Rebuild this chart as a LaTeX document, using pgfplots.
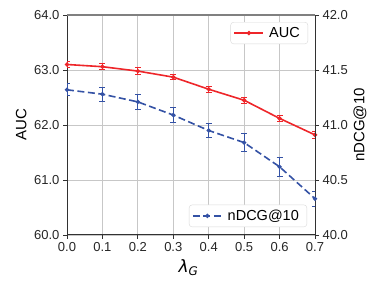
\documentclass[border=0pt]{standalone}
\usepackage{fontspec}
\setmainfont{Liberation Sans}
\newfontfamily\dejavu{DejaVu Sans}
\usepackage{pgfplots}
\pgfplotsset{compat=1.18}
\definecolor{cred}{RGB}{238,38,42}
\definecolor{cblue}{RGB}{52,82,165}
\definecolor{spine}{RGB}{50,50,50}
\begin{document}
\begin{tikzpicture}
\pgfplotsset{
  common/.style={
    scale only axis, width=248bp, height=220bp,
    xmin=0, xmax=0.7,
    tick align=outside, major tick length=4bp,
    tick style={color=spine, line width=0.8bp},
    ticklabel style={font=\fontsize{13bp}{15bp}\selectfont, color=black!85},
    /pgf/number format/assume math mode=true,
    /pgf/number format/.cd, fixed, fixed zerofill, precision=1, /pgfplots/.cd,
    legend style={font=\fontsize{14.5bp}{16bp}\selectfont, draw=black!15, rounded corners=3bp, fill=white,
      inner xsep=3bp, inner ysep=2bp, row sep=0pt,
      nodes={inner xsep=5bp, inner ysep=3bp}},
    legend cell align=left,
    legend image code/.code={
      \draw[mark repeat=2,mark phase=2,##1] plot coordinates {(0bp,0bp) (14.5bp,0bp) (29bp,0bp)};
    },
  },
}
\begin{axis}[common, name=a,
  ymin=60, ymax=64, ytick={60,61,62,63,64},
  xtick={0,0.1,0.2,0.3,0.4,0.5,0.6,0.7},
  axis y line*=left, axis x line*=bottom,
  axis line style={color=spine, line width=1bp},
  grid=major, major grid style={color=black!22, line width=0.8bp},
  every axis y label/.style={at={(axis description cs:-0.185,0.5)}, rotate=90, anchor=center},
  every axis x label/.style={at={(axis description cs:0.49,-0.15)}, anchor=center},
  ylabel={AUC}, xlabel={{\dejavu\itshape λ\textsubscript{G}}},
  ylabel style={font=\fontsize{15bp}{18bp}\selectfont},
  xlabel style={font=\fontsize{17bp}{18bp}\selectfont},
  legend style={at={(0.972,0.968)}, anchor=north east},
]
\addplot[color=cred, line width=1.6bp, mark=*, mark size=1.3bp,
  error bars/.cd, y dir=both, y explicit,
  error bar style={line width=0.9bp, color=cred},
  error mark options={rotate=90, mark size=3bp, line width=0.9bp, color=cred}]
coordinates {
 (0.0,63.10) +- (0,0.06)
 (0.1,63.06) +- (0,0.05)
 (0.2,62.98) +- (0,0.06)
 (0.3,62.87) +- (0,0.05)
 (0.4,62.65) +- (0,0.05)
 (0.5,62.45) +- (0,0.05)
 (0.6,62.12) +- (0,0.06)
 (0.7,61.82) +- (0,0.06)
};
\addlegendentry{AUC}
\end{axis}
\begin{axis}[common,
  ymin=40, ymax=42, ytick={40,40.5,41,41.5,42},
  axis y line*=right, axis x line*=top, xtick=\empty,
  axis line style={color=spine, line width=1bp},
  every outer x axis line/.style={color=black!50, line width=1.6bp},
  every axis y label/.style={at={(axis description cs:1.181,0.5)}, rotate=90, anchor=center},
  ylabel={nDCG@10},
  label style={font=\fontsize{15bp}{18bp}\selectfont},
  legend style={at={(0.968,0.036)}, anchor=south east},
]
\addplot[color=cblue, line width=1.6bp, dashed, dash pattern=on 7bp off 3.5bp, mark=*, mark size=1.3bp, mark options={solid},
  error bars/.cd, y dir=both, y explicit,
  error bar style={line width=0.9bp, color=cblue, solid},
  error mark options={rotate=90, mark size=3bp, line width=0.9bp, color=cblue, solid}]
coordinates {
 (0.0,41.32) +- (0,0.055)
 (0.1,41.28) +- (0,0.065)
 (0.2,41.21) +- (0,0.07)
 (0.3,41.09) +- (0,0.07)
 (0.4,40.95) +- (0,0.06)
 (0.5,40.84) +- (0,0.08)
 (0.6,40.62) +- (0,0.085)
 (0.7,40.33) +- (0,0.07)
};
\addlegendentry{nDCG@10}
\end{axis}
\pgfresetboundingbox
\path ([shift={(-67bp,-52bp)}]a.south west) rectangle ([shift={(67bp,15bp)}]a.north east);
\end{tikzpicture}
\end{document}
